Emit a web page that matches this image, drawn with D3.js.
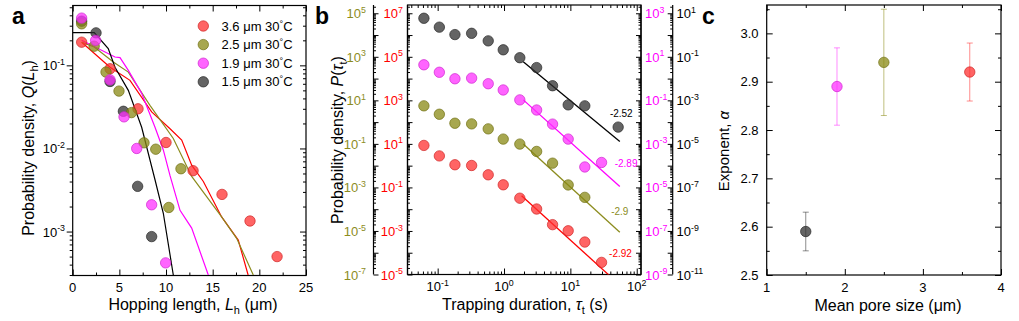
<!DOCTYPE html>
<html><head><meta charset="utf-8">
<script src="https://cdn.jsdelivr.net/npm/d3@7"></script>
<style>
body{margin:0;background:#fff}
svg{display:block;font-family:"Liberation Sans",Arial,sans-serif}
</style>
</head><body><script>
// ================= DATA =================
// colours per series (red = 3.6 um, olive = 2.5 um, magenta = 1.9 um, black = 1.5 um)
const seriesNames = ["3.6 μm 30°C", "2.5 μm 30°C", "1.9 μm 30°C", "1.5 μm 30°C"];
const seriesFill = ["#ff3030", "#8a8a14", "#ff30ff", "#303030"];
const seriesText = ["#ff0000", "#8c8c1e", "#ff00ff", "#000000"];

// ---- panel a: hopping length distribution ----
const hopL_red = [0.96, 4.0, 7.0, 10.0, 12.9, 16.0, 19.0, 21.9];
const hopQ_red = [0.19, 0.091, 0.030, 0.0118, 0.0054, 0.0028, 0.00134, 0.0005];
const hopL_olive = [0.96, 2.3, 3.57, 4.96, 6.3, 7.64, 8.9, 10.3, 11.6];
const hopQ_olive = [0.316, 0.17, 0.083, 0.049, 0.027, 0.0117, 0.0098, 0.00195, 0.0057];
const hopL_magenta = [0.96, 2.46, 4.0, 5.5, 6.86, 8.46, 9.96];
const hopQ_magenta = [0.37, 0.2, 0.067, 0.024, 0.010, 0.0021, 0.00042];
const hopL_black = [0.96, 2.5, 4.0, 5.43, 6.96, 8.46];
const hopQ_black = [0.34, 0.246, 0.064, 0.028, 0.0035, 0.00087];

// simulated curves in panel a
const curveL_red = [0.96, 4.0, 6.14, 8.46, 10.4, 11.68, 12.75, 14.0, 15.96, 17.74, 18.8];
const curveQ_red = [0.19, 0.095, 0.066, 0.0275, 0.0174, 0.0126, 0.0063, 0.0040, 0.0015, 0.00079, 0.0003];
const curveL_olive = [0.96, 2.31, 4.35, 5.96, 8.28, 10.78, 12.75, 15.96, 17.57, 19.35];
const curveQ_olive = [0.19, 0.166, 0.11, 0.083, 0.033, 0.0132, 0.0046, 0.0015, 0.00083, 0.0003];
const curveL_magenta = [0.96, 4.53, 5.07, 5.96, 7.39, 8.82, 9.71, 10.43, 11.5, 12.75, 14.53];
const curveQ_magenta = [0.2, 0.126, 0.124, 0.087, 0.046, 0.018, 0.0096, 0.0047, 0.0018, 0.0011, 0.0003];
const curveL_black = [0, 2.31, 3.81, 4.53, 5.96, 7.39, 8.82, 9.71, 10.78];
const curveQ_black = [0.247, 0.247, 0.159, 0.095, 0.050, 0.018, 0.0042, 0.00166, 0.0003];

const hopXTicks = [0, 5, 10, 15, 20, 25];

// ---- panel b: trapping duration distribution ----
const trapTau = [0.062, 0.106, 0.182, 0.325, 0.578, 0.973, 1.73, 3.10, 5.39, 9.27, 16.5, 29.5, 52.5];
const trapP_red = [8.5, 2.8, 1.1, 1.02, 0.38, 0.132, 0.032, 0.0102, 0.00195, 0.00102, 0.00031, 0.000036, null];
const trapP_olive = [5.6, 2.3, 0.89, 0.83, 0.49, 0.166, 0.098, 0.045, 0.013, 0.0013, 0.00035, null, null];
const trapP_magenta = [4.3, 1.95, 0.98, 1.05, 0.58, 0.30, 0.105, 0.036, 0.0081, 0.00166, 0.000087, 0.00014, null];
const trapP_black = [5.9, 2.3, 1.05, 1.2, 0.54, 0.21, 0.091, 0.032, 0.0047, 0.00062, 0.00056, null, 0.000059];
// vertical offset (decades) of each series' own axis relative to the red axis
const trapOffset = [0, 2, 4, 6];
// power-law fits: [tau, P] endpoints and exponent labels
const fitTau_red = [1.84, 40], fitP_red = [0.0417, 8.2e-6];
const fitTau_olive = [1.95, 55.6], fitP_olive = [0.098, 8.7e-6];
const fitTau_magenta = [1.95, 55.6], fitP_magenta = [0.105, 1.1e-5];
const fitTau_black = [1.95, 55.6], fitP_black = [0.060, 1.29e-5];
const fitLabels = ["-2.92", "-2.9", "-2.89", "-2.52"];
const fitLabelTau = [38.3, 41.2, 46.5, 39.4];          // left edge of each label
const fitLabelP = [9.8e-5, 7.9e-5, 1.23e-4, 2.4e-4];   // in each series' own units

// ---- panel c: exponent vs pore size ----
const poreSize = [1.5, 1.9, 2.5, 3.6];
const exponentA = [2.59, 2.89, 2.94, 2.92];
const exponentLo = [2.55, 2.81, 2.83, 2.86];
const exponentHi = [2.63, 2.97, 3.05, 2.98];
const poreColorIdx = [3, 2, 1, 0];
const poreXTicks = [1, 2, 3, 4];
const poreYTicks = [2.5, 2.6, 2.7, 2.8, 2.9, 3.0];

// ================= DRAWING =================
const W = 1019, H = 321;
const svg = d3.select("body").append("svg").attr("width", W).attr("height", H);
const defs = svg.append("defs");
const FS = 13;

function supText(g, x, y, base, exp, anchor, color, size) {
  const t = g.append("text").attr("x", x).attr("y", y).attr("text-anchor", anchor)
    .attr("fill", color).style("font-size", size + "px");
  t.append("tspan").text(base);
  t.append("tspan").attr("dy", -size * 0.42).style("font-size", (size * 0.68) + "px").text(exp);
  return t;
}
function minorLog(lo, hi) {
  const out = [];
  for (let e = Math.floor(Math.log10(lo)) - 1; e <= Math.ceil(Math.log10(hi)); e++)
    for (let m = 2; m <= 9; m++) { const v = m * Math.pow(10, e); if (v >= lo && v <= hi) out.push(v); }
  return out;
}
function majorLog(lo, hi) {
  const out = [];
  for (let e = Math.ceil(Math.log10(lo) - 1e-9); e <= Math.floor(Math.log10(hi) + 1e-9); e++) out.push(Math.pow(10, e));
  return out;
}
function drawAxis(g, axis, transform) {
  const a = g.append("g").attr("transform", transform).call(axis);
  a.select(".domain").remove();
  a.selectAll("line").attr("stroke", "#000").attr("stroke-width", 1);
  a.selectAll("text").remove();
  return a;
}
function clip(id, x0, y0, x1, y1) {
  defs.append("clipPath").attr("id", id).append("rect")
    .attr("x", x0).attr("y", y0).attr("width", x1 - x0).attr("height", y1 - y0);
}
function dots(g, xs, ys, xScale, yScale, color, r) {
  const d = xs.map((x, i) => [x, ys[i]]).filter(p => p[1] != null);
  g.selectAll(null).data(d).enter().append("circle")
    .attr("cx", p => xScale(p[0])).attr("cy", p => yScale(p[1])).attr("r", r)
    .attr("fill", color).attr("fill-opacity", 0.75)
    .attr("stroke", d3.color(color).darker(0.6)).attr("stroke-opacity", 0.7).attr("stroke-width", 1);
}

// ---------------- Panel a ----------------
{
  const L = 72.7, R = 306, T = 5.5, B = 275.5;
  const x = d3.scaleLinear().domain([0, 25]).range([L, R]);
  const y = d3.scaleLog().domain([2.96e-4, 0.525]).range([B, T]);
  const g = svg.append("g");
  const ymaj = majorLog(...y.domain()), ymin = minorLog(...y.domain());
  const xmin = [2.5, 7.5, 12.5, 17.5, 22.5];
  drawAxis(g, d3.axisBottom(x).tickValues(hopXTicks).tickSize(-6), `translate(0,${B})`);
  drawAxis(g, d3.axisBottom(x).tickValues(xmin).tickSize(-3), `translate(0,${B})`);
  drawAxis(g, d3.axisTop(x).tickValues(hopXTicks).tickSize(-6), `translate(0,${T})`);
  drawAxis(g, d3.axisTop(x).tickValues(xmin).tickSize(-3), `translate(0,${T})`);
  drawAxis(g, d3.axisLeft(y).tickValues(ymaj).tickSize(6), `translate(${L},0)`);
  drawAxis(g, d3.axisLeft(y).tickValues(ymin).tickSize(3), `translate(${L},0)`);
  drawAxis(g, d3.axisRight(y).tickValues(ymaj).tickSize(-6), `translate(${R},0)`);
  drawAxis(g, d3.axisRight(y).tickValues(ymin).tickSize(-3), `translate(${R},0)`);
  g.append("rect").attr("x", L).attr("y", T).attr("width", R - L).attr("height", B - T)
    .attr("fill", "none").attr("stroke", "#000").attr("stroke-width", 1.2);
  hopXTicks.forEach(v => g.append("text").attr("x", x(v)).attr("y", 292).attr("text-anchor", "middle")
    .style("font-size", FS + "px").text(v));
  ymaj.forEach(v => supText(g, 65, y(v) + 5, "10", String(Math.round(Math.log10(v))), "end", "#000", FS));

  clip("clipA", L, T, R, B);
  const lines = g.append("g").attr("clip-path", "url(#clipA)");
  const curves = [[curveL_red, curveQ_red, 0], [curveL_olive, curveQ_olive, 1], [curveL_magenta, curveQ_magenta, 2], [curveL_black, curveQ_black, 3]];
  const line = d3.line().x(p => x(p[0])).y(p => y(p[1]));
  curves.forEach(([ls, qs, c]) => lines.append("path").datum(ls.map((l, i) => [l, qs[i]]))
    .attr("d", line).attr("fill", "none").attr("stroke", seriesText[c]).attr("stroke-width", 1.2));
  const pts = g.append("g");
  dots(pts, hopL_black, hopQ_black, x, y, seriesFill[3], 5.2);
  dots(pts, hopL_red, hopQ_red, x, y, seriesFill[0], 5.2);
  dots(pts, hopL_olive, hopQ_olive, x, y, seriesFill[1], 5.2);
  dots(pts, hopL_magenta, hopQ_magenta, x, y, seriesFill[2], 5.2);

  // legend
  seriesNames.forEach((n, i) => {
    const cy = 26 + i * 18.6;
    pts.append("circle").attr("cx", 203.3).attr("cy", cy).attr("r", 5.2)
      .attr("fill", seriesFill[i]).attr("fill-opacity", 0.75)
      .attr("stroke", d3.color(seriesFill[i]).darker(0.6)).attr("stroke-opacity", 0.7);
    const t = g.append("text").attr("x", 221.5).attr("y", cy + 4.5).style("font-size", FS + "px");
    const parts = n.split("°");
    t.append("tspan").text(parts[0]);
    t.append("tspan").attr("dy", -4).style("font-size", "9px").text("°");
    t.append("tspan").attr("dy", 4).text(parts[1]);
  });

  // labels
  const xl = g.append("text").attr("x", 193).attr("y", 310).attr("text-anchor", "middle").style("font-size", "16px");
  xl.append("tspan").text("Hopping length, ");
  xl.append("tspan").style("font-style", "italic").text("L");
  xl.append("tspan").attr("dy", 4).style("font-size", "11px").text("h");
  xl.append("tspan").attr("dy", -4).text(" (μm)");
  const yl = g.append("text").attr("transform", "translate(34,148) rotate(-90)").attr("text-anchor", "middle").style("font-size", "16px");
  yl.append("tspan").text("Probability density, ");
  yl.append("tspan").style("font-style", "italic").text("Q");
  yl.append("tspan").text("(");
  yl.append("tspan").style("font-style", "italic").text("L");
  yl.append("tspan").attr("dy", 4).style("font-size", "11px").text("h");
  yl.append("tspan").attr("dy", -4).text(")");
  g.append("text").attr("x", 12).attr("y", 24).style("font-size", "23px").style("font-weight", "bold").text("a");
}

// ---------------- Panel b ----------------
{
  const L = 407.5, R = 641, T = 5, B = 274.5;
  const x = d3.scaleLog().domain([0.0351, 116]).range([L, R]);
  const y = d3.scaleLog().domain([1e-5, Math.pow(10, 7.38)]).range([B, T]);
  const g = svg.append("g");
  const xmaj = majorLog(...x.domain()), xmin = minorLog(...x.domain());
  const ymaj = majorLog(...y.domain()), ymin = minorLog(...y.domain());
  drawAxis(g, d3.axisBottom(x).tickValues(xmaj).tickSize(-6), `translate(0,${B})`);
  drawAxis(g, d3.axisBottom(x).tickValues(xmin).tickSize(-3), `translate(0,${B})`);
  drawAxis(g, d3.axisTop(x).tickValues(xmaj).tickSize(-6), `translate(0,${T})`);
  drawAxis(g, d3.axisTop(x).tickValues(xmin).tickSize(-3), `translate(0,${T})`);
  // red axis (frame left), olive (outer left), magenta (frame right), black (outer right)
  const axX = [L, 373.5, R, 672.7];
  const dir = [-1, -1, 1, 1]; // -1: ticks point right, 1: ticks point left
  axX.forEach((ax, k) => {
    const mk = (vals, s) => dir[k] < 0 ? d3.axisLeft(y).tickValues(vals).tickSize(-s) : d3.axisLeft(y).tickValues(vals).tickSize(s);
    drawAxis(g, mk(ymaj, 5), `translate(${ax},0)`);
    drawAxis(g, mk(ymin, 2.5), `translate(${ax},0)`);
    g.append("line").attr("x1", ax).attr("x2", ax).attr("y1", T).attr("y2", B).attr("stroke", "#000").attr("stroke-width", 1.2);
  });
  g.append("rect").attr("x", L).attr("y", T).attr("width", R - L).attr("height", B - T)
    .attr("fill", "none").attr("stroke", "#000").attr("stroke-width", 1.2);
  // axis labels: red (0), olive (1), magenta (2), black (3)
  const labelX = [403, 366, 645, 676.5];
  const anchors = ["end", "end", "start", "start"];
  [0, 1, 2, 3].forEach(s => {
    const off = trapOffset[s];
    ymaj.filter(v => Math.round(Math.log10(v)) % 2 !== 0).forEach(v => {
      const e = Math.round(Math.log10(v)) - off;
      supText(g, labelX[s], y(v) + 5, "10", String(e), anchors[s], seriesText[s], FS);
    });
  });
  xmaj.forEach(v => supText(g, x(v), 291, "10", String(Math.round(Math.log10(v))), "middle", "#000", FS));

  clip("clipB", L, T, R, B);
  const lines = g.append("g").attr("clip-path", "url(#clipB)");
  const fits = [[fitTau_red, fitP_red], [fitTau_olive, fitP_olive], [fitTau_magenta, fitP_magenta], [fitTau_black, fitP_black]];
  fits.forEach(([ts, ps], s) => {
    const f = Math.pow(10, trapOffset[s]);
    lines.append("path").datum(ts.map((t, i) => [t, ps[i] * f]))
      .attr("d", d3.line().x(p => x(p[0])).y(p => y(p[1])))
      .attr("fill", "none").attr("stroke", seriesText[s]).attr("stroke-width", 1.3);
  });
  const series = [trapP_red, trapP_olive, trapP_magenta, trapP_black];
  series.forEach((ps, s) => {
    const f = Math.pow(10, trapOffset[s]);
    dots(g, trapTau, ps.map(p => p == null ? null : p * f), x, y, seriesFill[s], 5.2);
  });
  fitLabels.forEach((t, s) => {
    const f = Math.pow(10, trapOffset[s]);
    g.append("text").attr("x", x(fitLabelTau[s])).attr("y", y(fitLabelP[s] * f) + 3.6)
      .attr("fill", seriesText[s]).style("font-size", "10px").text(t);
  });

  const xl = g.append("text").attr("x", 525).attr("y", 310).attr("text-anchor", "middle").style("font-size", "16px");
  xl.append("tspan").text("Trapping duration, ");
  xl.append("tspan").style("font-style", "italic").text("τ");
  xl.append("tspan").attr("dy", 4).style("font-size", "11px").text("t");
  xl.append("tspan").attr("dy", -4).text(" (s)");
  const yl = g.append("text").attr("transform", "translate(343,140) rotate(-90)").attr("text-anchor", "middle").style("font-size", "16px");
  yl.append("tspan").text("Probability density, ");
  yl.append("tspan").style("font-style", "italic").text("P");
  yl.append("tspan").text("(");
  yl.append("tspan").style("font-style", "italic").text("τ");
  yl.append("tspan").attr("dy", 4).style("font-size", "11px").text("t");
  yl.append("tspan").attr("dy", -4).text(")");
  g.append("text").attr("x", 315).attr("y", 24).style("font-size", "23px").style("font-weight", "bold").text("b");
}

// ---------------- Panel c ----------------
{
  const L = 766.7, R = 1001, T = 5, B = 275;
  const x = d3.scaleLinear().domain([1, 4]).range([L, R]);
  const y = d3.scaleLinear().domain([2.5, 3.0587]).range([B, T]);
  const g = svg.append("g");
  const xmin = [1.5, 2.5, 3.5];
  const ymin = [2.55, 2.65, 2.75, 2.85, 2.95, 3.05];
  drawAxis(g, d3.axisBottom(x).tickValues(poreXTicks).tickSize(-6), `translate(0,${B})`);
  drawAxis(g, d3.axisBottom(x).tickValues(xmin).tickSize(-3), `translate(0,${B})`);
  drawAxis(g, d3.axisTop(x).tickValues(poreXTicks).tickSize(-6), `translate(0,${T})`);
  drawAxis(g, d3.axisTop(x).tickValues(xmin).tickSize(-3), `translate(0,${T})`);
  drawAxis(g, d3.axisLeft(y).tickValues(poreYTicks).tickSize(-6), `translate(${L},0)`);
  drawAxis(g, d3.axisLeft(y).tickValues(ymin).tickSize(-3), `translate(${L},0)`);
  drawAxis(g, d3.axisRight(y).tickValues(poreYTicks).tickSize(-6), `translate(${R},0)`);
  drawAxis(g, d3.axisRight(y).tickValues(ymin).tickSize(-3), `translate(${R},0)`);
  g.append("rect").attr("x", L).attr("y", T).attr("width", R - L).attr("height", B - T)
    .attr("fill", "none").attr("stroke", "#000").attr("stroke-width", 1.2);
  poreXTicks.forEach(v => g.append("text").attr("x", x(v)).attr("y", 292).attr("text-anchor", "middle").style("font-size", FS + "px").text(v));
  poreYTicks.forEach(v => g.append("text").attr("x", 758.5).attr("y", y(v) + 4.7).attr("text-anchor", "end").style("font-size", FS + "px").text(v.toFixed(1)));
  poreSize.forEach((p, i) => {
    const c = seriesFill[poreColorIdx[i]];
    const eb = g.append("g").attr("stroke", c).attr("stroke-opacity", 0.55).attr("stroke-width", 1);
    eb.append("line").attr("x1", x(p)).attr("x2", x(p)).attr("y1", y(exponentLo[i])).attr("y2", y(exponentHi[i]));
    [exponentLo[i], exponentHi[i]].forEach(v => eb.append("line").attr("x1", x(p) - 3).attr("x2", x(p) + 3).attr("y1", y(v)).attr("y2", y(v)));
  });
  poreSize.forEach((p, i) => dots(g, [p], [exponentA[i]], x, y, seriesFill[poreColorIdx[i]], 5.2));
  g.append("text").attr("x", 888).attr("y", 311).attr("text-anchor", "middle").style("font-size", "16px").text("Mean pore size (μm)");
  const yl = g.append("text").attr("transform", "translate(729,151) rotate(-90)").attr("text-anchor", "middle").style("font-size", "15px");
  yl.append("tspan").text("Exponent, ");
  yl.append("tspan").style("font-style", "italic").text("α");
  g.append("text").attr("x", 702).attr("y", 24).style("font-size", "23px").style("font-weight", "bold").text("c");
}
</script></body></html>
